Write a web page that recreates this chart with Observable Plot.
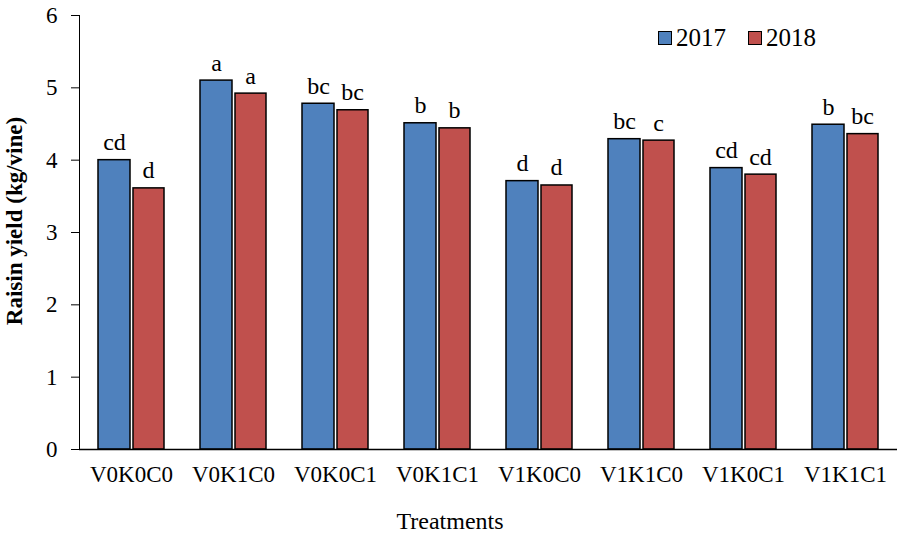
<!DOCTYPE html>
<html>
<head>
<meta charset="utf-8">
<script src="https://cdn.jsdelivr.net/npm/d3@7"></script>
<script src="https://cdn.jsdelivr.net/npm/@observablehq/plot@0.6"></script>
<style>
  html, body { margin: 0; padding: 0; background: #fff; }
  #wrap { position: relative; width: 898px; height: 537px; font-family: "Liberation Serif", "Times New Roman", serif; }
  .ylab { position: absolute; left: 15px; top: 221px; transform: translate(-50%, -50%) rotate(-90deg); font-weight: bold; font-size: 23px; white-space: nowrap; }
  .xlab { position: absolute; left: 450px; top: 521px; transform: translate(-50%, -50%); font-size: 24px; white-space: nowrap; }
  .legend { position: absolute; left: 658px; top: 24px; font-size: 25px; display: flex; align-items: center; }
  .legend .sw { width: 12px; height: 12px; border: 1.5px solid #000; display: inline-block; margin-right: 4px; }
  .legend .item { display: flex; align-items: center; margin-right: 22px; }
</style>
</head>
<body>
<div id="wrap"></div>
<script>
const treatments = ["V0K0C0", "V0K1C0", "V0K0C1", "V0K1C1", "V1K0C0", "V1K1C0", "V1K0C1", "V1K1C1"];
const years = ["2017", "2018"];
const yield2017 = [4.00, 5.10, 4.78, 4.51, 3.71, 4.29, 3.89, 4.49];
const yield2018 = [3.61, 4.92, 4.69, 4.44, 3.65, 4.27, 3.80, 4.36];
const letters2017 = ["cd", "a", "bc", "b", "d", "bc", "cd", "b"];
const letters2018 = ["d", "a", "bc", "b", "d", "c", "cd", "bc"];
const colors = ["#4F81BD", "#C0504D"];
const yTicks = [0, 1, 2, 3, 4, 5, 6];

const series = [
  treatments.map((t, i) => ({treatment: t, year: years[0], value: yield2017[i], letter: letters2017[i]})),
  treatments.map((t, i) => ({treatment: t, year: years[1], value: yield2018[i], letter: letters2018[i]}))
];

// bar placement inside each treatment band (styling only)
const insets = [{insetLeft: 18, insetRight: 52}, {insetLeft: 53, insetRight: 18}];
const textDx = [-17, 17];

const font = '"Liberation Serif", "Times New Roman", serif';

const plot = Plot.plot({
  width: 898,
  height: 537,
  marginLeft: 79,
  marginRight: 1,
  marginTop: 15,
  marginBottom: 88,
  style: {fontFamily: font, fontSize: "23px", color: "#000", background: "#fff"},
  x: {domain: treatments, padding: 0, label: null, tickSize: 0, tickPadding: 16},
  y: {domain: [0, 6], ticks: yTicks, tickFormat: "d", tickSize: 8, tickPadding: 14, label: null, line: true},
  color: {domain: years, range: colors},
  marks: [
    ...series.map((d, k) => Plot.barY(d, {x: "treatment", y: "value", fill: "year", stroke: "#000", strokeWidth: 1.5, ...insets[k]})),
    ...series.map((d, k) => Plot.text(d, {x: "treatment", y: "value", text: "letter", lineAnchor: "bottom", dy: -10, dx: textDx[k], fontSize: 24, fill: "#000"})),
    Plot.ruleY([0], {stroke: "#000", strokeWidth: 1.5})
  ]
});

const wrap = document.getElementById("wrap");
wrap.appendChild(plot);

const ylab = document.createElement("div");
ylab.className = "ylab";
ylab.textContent = "Raisin yield (kg/vine)";
wrap.appendChild(ylab);

const xlab = document.createElement("div");
xlab.className = "xlab";
xlab.textContent = "Treatments";
wrap.appendChild(xlab);

const legend = document.createElement("div");
legend.className = "legend";
years.forEach((yr, i) => {
  const item = document.createElement("span");
  item.className = "item";
  const sw = document.createElement("span");
  sw.className = "sw";
  sw.style.background = colors[i];
  item.appendChild(sw);
  item.appendChild(document.createTextNode(yr));
  legend.appendChild(item);
});
wrap.appendChild(legend);
</script>
</body>
</html>
